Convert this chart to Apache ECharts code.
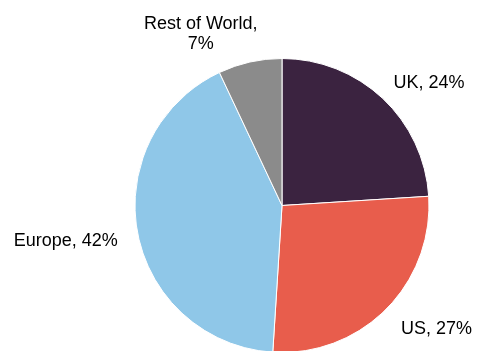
<!DOCTYPE html>
<html>
<head>
<meta charset="utf-8">
<script src="https://cdn.jsdelivr.net/npm/echarts@6/dist/echarts.min.js"></script>
<style>
  html, body { margin: 0; padding: 0; background: #ffffff; }
  #chart { width: 478px; height: 351px; }
</style>
</head>
<body>
<div id="chart"></div>
<script>
// Revenue share by region
const regions = ['UK', 'US', 'Europe', 'Rest of World'];
const shares = [24, 27, 42, 7];
const colors = ['#3b2340', '#e85d4c', '#8fc7e8', '#8b8b8b'];

// small nudges of each label away from its default outside spot
const labelShift = [[-11, -8], [-7, 13], [5, 6], [-32, -18]];

const chart = echarts.init(document.getElementById('chart'), null, { renderer: 'canvas' });

chart.setOption({
  animation: false,
  series: [{
    type: 'pie',
    center: [282, 205.5],
    radius: [0, 147],
    startAngle: 90,
    clockwise: true,
    avoidLabelOverlap: false,
    itemStyle: { borderColor: '#ffffff', borderWidth: 1 },
    label: {
      show: true,
      position: 'outside',
      fontFamily: 'Liberation Sans, Arial, sans-serif',
      fontSize: 18,
      color: '#000000',
      lineHeight: 20,
      formatter: function (p) {
        return p.name === 'Rest of World' ? 'Rest of World,\n' + p.value + '%' : p.name + ', ' + p.value + '%';
      }
    },
    labelLine: { show: false, length: 10, length2: 10 },
    labelLayout: function (p) {
      const s = labelShift[p.dataIndex];
      const out = { dx: s[0], dy: s[1] };
      if (p.dataIndex === 3) out.align = 'center';
      return out;
    },
    data: regions.map(function (name, i) {
      return { name: name, value: shares[i], itemStyle: { color: colors[i] } };
    })
  }]
});
</script>
</body>
</html>
